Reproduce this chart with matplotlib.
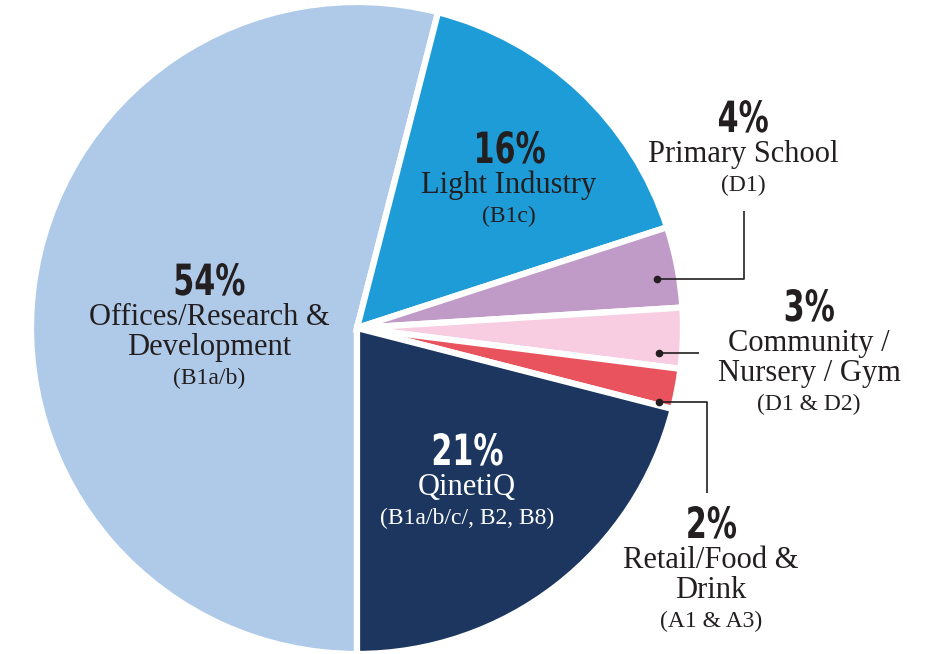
import matplotlib
matplotlib.use("Agg")
import matplotlib.pyplot as plt
from matplotlib.patheffects import AbstractPathEffect
from matplotlib.transforms import Affine2D

# ---- data ----
categories = ["Offices/Research &\nDevelopment", "Light Industry", "Primary School",
              "Community /\nNursery / Gym", "Retail/Food &\nDrink", "QinetiQ"]
use_classes = ["(B1a/b)", "(B1c)", "(D1)", "(D1 & D2)", "(A1 & A3)", "(B1a/b/c/, B2, B8)"]
shares = [54, 16, 4, 3, 2, 21]
colors = ["#AFC9E9", "#1E9CD7", "#C09BC8", "#F8CDE1", "#E8535E", "#1C365F"]
text_colors = ["#231F20", "#231F20", "#231F20", "#231F20", "#231F20", "#FFFFFF"]


class Condense(AbstractPathEffect):
    """Horizontally compress text glyphs about their centre (text stays a Text artist)."""

    def __init__(self, sx=0.7):
        super().__init__()
        self.sx = sx

    def draw_path(self, renderer, gc, tpath, affine, rgbFace=None):
        ext = tpath.get_extents(affine)
        xc = 0.5 * (ext.x0 + ext.x1)
        aff = affine + Affine2D().translate(-xc, 0).scale(self.sx, 1).translate(xc, 0)
        renderer.draw_path(gc, tpath, aff, rgbFace)


W, H = 944, 654
fig = plt.figure(figsize=(W / 100, H / 100), dpi=100)
ax = fig.add_axes([0, 0, 1, 1])

cx, cy, R = 357, H - 328, 326
ax.pie(shares, colors=colors, startangle=-90, counterclock=False,
       center=(cx, cy), radius=R,
       wedgeprops=dict(edgecolor="white", linewidth=4.5))
ax.set_xlim(0, W)
ax.set_ylim(0, H)
ax.set_aspect("equal")
ax.axis("off")

pct_font = dict(family="DejaVu Sans", weight="bold", size=31,
                path_effects=[Condense(0.70)])
lab_font = dict(family=["Liberation Serif", "DejaVu Serif"], size=22)
sub_font = dict(family=["Liberation Serif", "DejaVu Serif"], size=17)

# label anchors (image px): center x, baseline of the percentage
anchors = [(209, 295), (509, 163), (743, 132), (809, 321), (711, 538), (467, 465)]
step = 30

for i, (x, yb) in enumerate(anchors):
    col = text_colors[i]
    ax.text(x, H - yb, f"{shares[i]}%", ha="center", va="baseline", color=col, **pct_font)
    lines = categories[i].split("\n")
    y = yb
    for ln in lines:
        y += step
        ax.text(x, H - y, ln, ha="center", va="baseline", color=col, **lab_font)
    y += 29
    ax.text(x, H - y, use_classes[i], ha="center", va="baseline", color=col, **sub_font)

# leader lines (image px)
leaders = [
    [(657, 279), (744, 279), (744, 211)],
    [(659, 353), (699, 353)],
    [(659, 402), (707, 402), (707, 493)],
]
for pts in leaders:
    xs = [p[0] for p in pts]
    ys = [H - p[1] for p in pts]
    ax.plot(xs, ys, color="#231F20", lw=1.2, solid_capstyle="butt")
    ax.plot(xs[0], ys[0], "o", color="#231F20", ms=4.5)

fig.savefig("out.png", dpi=100)
